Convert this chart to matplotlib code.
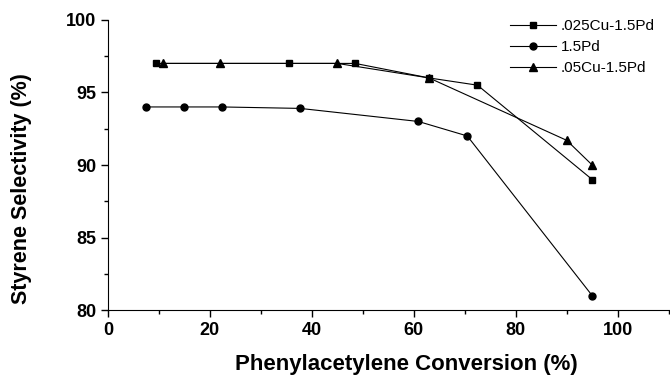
import matplotlib
matplotlib.use('Agg')
import matplotlib.pyplot as plt
from matplotlib.ticker import MultipleLocator

# data
cu025_x = [9.5, 35.5, 48.5, 63, 72.5, 95]
cu025_y = [97, 97, 97, 96, 95.5, 89]
pd_x = [7.5, 15, 22.4, 37.7, 60.9, 70.5, 95]
pd_y = [94, 94, 94, 93.9, 93, 92, 81]
cu05_x = [10.9, 22, 45, 63, 90, 95]
cu05_y = [97, 97, 97, 96, 91.7, 90]

plt.rcParams['font.family'] = ['Liberation Sans', 'DejaVu Sans']

fig = plt.figure(figsize=(6.7, 3.75), dpi=100)
ax = fig.add_axes([0.161, 0.173, 0.837, 0.774])

ax.plot(cu025_x, cu025_y, 'k-s', lw=0.8, ms=5, label='.025Cu-1.5Pd')
ax.plot(pd_x, pd_y, 'k-o', lw=0.8, ms=5, label='1.5Pd')
ax.plot(cu05_x, cu05_y, 'k-^', lw=0.8, ms=6, label='.05Cu-1.5Pd')

ax.set_xlim(0, 110)
ax.set_ylim(80, 100)
ax.xaxis.set_major_locator(MultipleLocator(20))
ax.xaxis.set_minor_locator(MultipleLocator(10))
ax.yaxis.set_major_locator(MultipleLocator(5))
ax.yaxis.set_minor_locator(MultipleLocator(2.5))
ax.spines['top'].set_visible(False)
ax.spines['right'].set_visible(False)
ax.tick_params(which='major', length=5, width=1, labelsize=13)
ax.tick_params(which='minor', length=3, width=1)
for lab in ax.get_xticklabels() + ax.get_yticklabels():
    lab.set_fontweight('bold')

ax.set_xlabel('Phenylacetylene Conversion (%)', fontsize=16, fontweight='bold')
ax.set_ylabel('Styrene Selectivity (%)', fontsize=15.5, fontweight='bold')
ax.xaxis.set_label_coords(0.533, -0.15)
ax.yaxis.set_label_coords(-0.135, 0.42)

ax.legend(loc='upper right', frameon=False, fontsize=11, handlelength=3.0,
          handletextpad=0.3, labelspacing=0.45, bbox_to_anchor=(1.0, 1.05))

fig.savefig('out.png', dpi=100)
